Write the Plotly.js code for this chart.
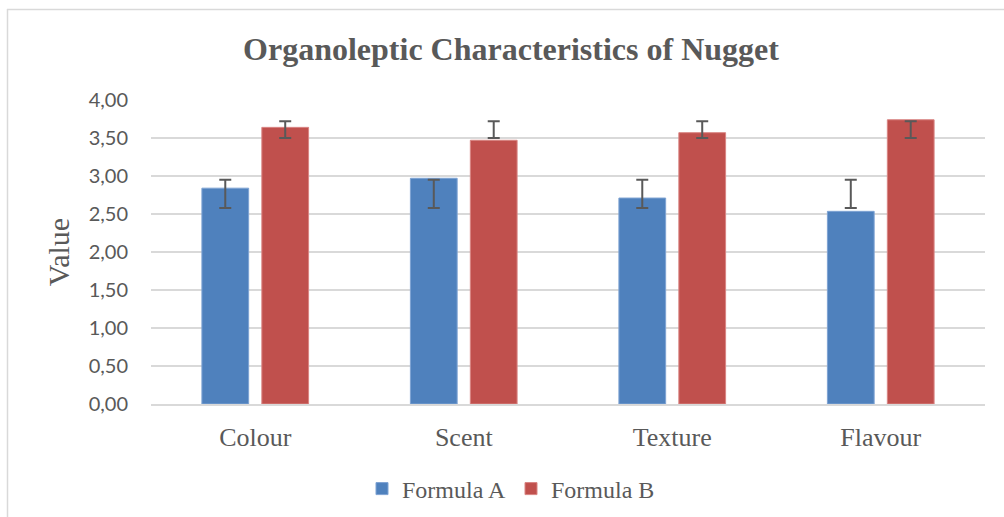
<!DOCTYPE html>
<html>
<head>
<meta charset="utf-8">
<script src="https://cdn.plot.ly/plotly-3.0.1.min.js"></script>
<style>
html,body{margin:0;padding:0;background:#fff;}
#chart{width:1004px;height:517px;}
</style>
</head>
<body>
<div id="chart"></div>
<script>
// Data
var categories = ["Colour", "Scent", "Texture", "Flavour"];
var formulaA = [2.84, 2.97, 2.71, 2.535];
var formulaB = [3.64, 3.47, 3.57, 3.74];
// error bar ends (low / high) as drawn in the reference
var errLowA = [2.58, 2.58, 2.58, 2.58];
var errHighA = [2.95, 2.95, 2.95, 2.95];
var errLowB = [3.50, 3.50, 3.50, 3.50];
var errHighB = [3.72, 3.72, 3.72, 3.72];
var yTickVals = [0, 0.5, 1, 1.5, 2, 2.5, 3, 3.5, 4];
var yTickText = ["0,00", "0,50", "1,00", "1,50", "2,00", "2,50", "3,00", "3,50", "4,00"];

function plus(vals, hi) { return vals.map(function (v, i) { return hi[i] - v; }); }
function minus(vals, lo) { return vals.map(function (v, i) { return v - lo[i]; }); }

var errStyle = {color: "#595959", thickness: 2, width: 6};

var traceA = {
  type: "bar", name: "Formula A", x: categories, y: formulaA,
  marker: {color: "#4F81BD", line: {color: "#7ea3d3", width: 1}},
  error_y: Object.assign({type: "data", symmetric: false,
    array: plus(formulaA, errHighA), arrayminus: minus(formulaA, errLowA), visible: true}, errStyle),
  hoverinfo: "x+y"
};
var traceB = {
  type: "bar", name: "Formula B", x: categories, y: formulaB,
  marker: {color: "#C0504D", line: {color: "#d98583", width: 1}},
  error_y: Object.assign({type: "data", symmetric: false,
    array: plus(formulaB, errHighB), arrayminus: minus(formulaB, errLowB), visible: true}, errStyle),
  hoverinfo: "x+y"
};

var L = 151, R = 19, T = 100, B = 113, W = 1004, H = 517;
var pw = W - L - R, ph = H - T - B;
function px(x) { return (x - L) / pw; }
function py(y) { return (H - B - y) / ph; }

var layout = {
  width: W, height: H,
  margin: {l: L, r: R, t: T, b: B, pad: 0, autoexpand: false},
  paper_bgcolor: "#ffffff", plot_bgcolor: "#ffffff",
  barmode: "group", bargap: 0.425, bargroupgap: 0.22,
  title: {
    text: "<b>Organoleptic Characteristics of Nugget</b>",
    font: {family: "'Liberation Serif', 'Times New Roman', serif", size: 32, color: "#595959"},
    x: 511 / W, xref: "container", xanchor: "center",
    y: 1 - 49 / H, yref: "container", yanchor: "middle",
    automargin: false
  },
  xaxis: {
    type: "category",
    tickfont: {family: "'Liberation Serif', 'Times New Roman', serif", size: 26, color: "#595959"},
    showgrid: false, showline: true, linecolor: "#d9d9d9", linewidth: 1.5,
    ticks: "", ticklabelstandoff: 9, zeroline: false, automargin: false
  },
  yaxis: {
    range: [0, 4], tickvals: yTickVals, ticktext: yTickText,
    tickfont: {family: "Lato, 'Open Sans', sans-serif", size: 20, color: "#595959"},
    showgrid: true, gridcolor: "#d9d9d9", gridwidth: 1.5,
    zeroline: false, showline: false, ticks: "", ticklabelstandoff: 22, automargin: false,
    title: {text: "Value", font: {family: "'Liberation Serif', 'Times New Roman', serif", size: 30, color: "#595959"}, standoff: 10}
  },
  legend: {
    orientation: "h", xref: "container", x: 511 / W, xanchor: "center",
    yref: "container", y: 1 - 489 / H, yanchor: "middle",
    font: {family: "'Liberation Serif', 'Times New Roman', serif", size: 24, color: "#595959"},
    itemwidth: 30, traceorder: "normal"
  },
  shapes: [
    {type: "line", xref: "paper", yref: "paper", x0: px(7), x1: px(1004), y0: py(9.5), y1: py(9.5),
      line: {color: "#d9d9d9", width: 1.5}},
    {type: "line", xref: "paper", yref: "paper", x0: px(7.5), x1: px(7.5), y0: py(9), y1: py(517),
      line: {color: "#d9d9d9", width: 1.5}}
  ],
  showlegend: true
};

Plotly.newPlot("chart", [traceA, traceB], layout, {displayModeBar: false, staticPlot: true});
</script>
</body>
</html>
